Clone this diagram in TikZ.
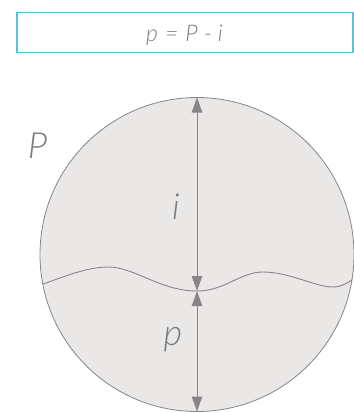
\documentclass[tikz,border=0pt]{standalone}
\usepackage{fontspec}
\newfontfamily\lf{Lato}[UprightFont=* Light Italic]
\usetikzlibrary{arrows.meta}
\definecolor{linegray}{HTML}{898586}
\definecolor{diskfill}{HTML}{EAE8E7}
\definecolor{txtgray}{HTML}{7B7B7E}
\definecolor{boxcyan}{HTML}{5BC0DE}
\tikzset{
  dimarrow/.style={draw=linegray, line width=1pt, {Triangle[length=15pt,width=10.5pt]}-{Triangle[length=15pt,width=10.5pt]}},
  bigtxt/.style={text=txtgray, font=\lf\fontsize{36}{36}\selectfont, inner sep=0pt, anchor=base},
  wave/.style={draw=linegray, line width=0.9pt},
}
\begin{document}
\begin{tikzpicture}[x=1pt,y=-1pt]
\useasboundingbox (0,0) rectangle (354,413);
\node[draw=boxcyan, line width=1.2pt, minimum width=336pt, minimum height=40pt, inner sep=0pt, outer sep=0pt] (formula) at (185,32.6) {};
\node[text=txtgray, font=\lf\fontsize{23}{23}\selectfont, inner sep=0pt, anchor=base] (ftext) at (184.5,41.7) {p\hspace{7pt}=\hspace{7pt}P\hspace{6pt}-\hspace{6pt}i};
\node[circle, draw=linegray, line width=0.8pt, fill=diskfill, minimum size=314pt, inner sep=0pt, outer sep=0pt] (disk) at (197,254.5) {};
\begin{scope}
\clip (197,254.5) circle (157pt);
\draw[wave] (38,286) .. controls (65,276) and (88,267) .. (108,267) .. controls (135,267) and (160,291) .. (197,291) .. controls (225,291) and (240,272) .. (263,272) .. controls (290,272) and (315,287) .. (333,287) .. controls (342,287) and (350,282) .. (358,275);
\end{scope}
\coordinate (mid) at (197,291);
\draw[dimarrow] (mid) -- (disk.north);
\draw[dimarrow] (mid) -- (disk.south);
\node[bigtxt] (bigP) at (37.5,158) {P};
\node[bigtxt] (ilab) at (176,219) {i};
\node[bigtxt] (plab) at (173,345) {p};
\end{tikzpicture}
\end{document}
